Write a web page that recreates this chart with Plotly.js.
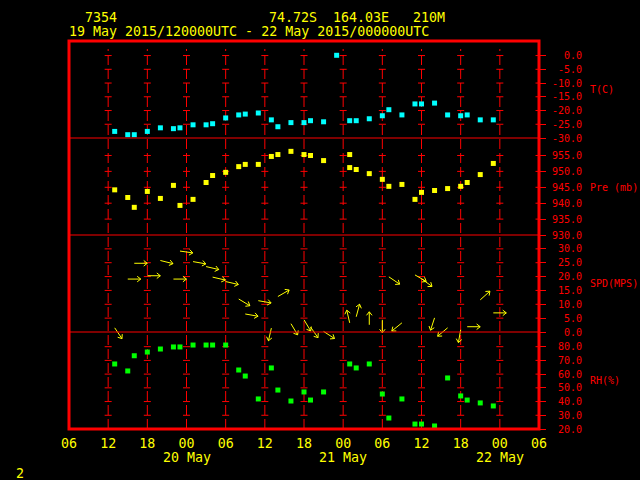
<!DOCTYPE html>
<html><head><meta charset="utf-8">
<script src="https://cdn.plot.ly/plotly-3.0.1.min.js"></script>
<style>html,body{margin:0;padding:0;background:#000}</style>
</head><body>
<div id="chart" style="width:640px;height:480px"></div>
<script>
// ---------------- data ----------------
const times = [
 '2015-05-19 13:00','2015-05-19 15:00','2015-05-19 16:00','2015-05-19 18:00','2015-05-19 20:00','2015-05-19 22:00','2015-05-19 23:00',
 '2015-05-20 01:00','2015-05-20 03:00','2015-05-20 04:00','2015-05-20 06:00','2015-05-20 08:00','2015-05-20 09:00','2015-05-20 11:00',
 '2015-05-20 13:00','2015-05-20 14:00','2015-05-20 16:00','2015-05-20 18:00','2015-05-20 19:00','2015-05-20 21:00','2015-05-20 23:00',
 '2015-05-21 01:00','2015-05-21 02:00','2015-05-21 04:00','2015-05-21 06:00','2015-05-21 07:00','2015-05-21 09:00','2015-05-21 11:00',
 '2015-05-21 12:00','2015-05-21 14:00','2015-05-21 16:00','2015-05-21 18:00','2015-05-21 19:00','2015-05-21 21:00','2015-05-21 23:00'];

const tempC = [-27.6,-28.8,-28.8,-27.6,-26.3,-26.6,-26.3,
 -25.2,-25.2,-24.8,-22.7,-21.6,-21.3,-20.9,
 -23.4,-25.9,-24.4,-24.4,-23.7,-24.1,0.1,
 -23.7,-23.7,-23.0,-21.9,-19.7,-21.6,-17.6,
 -17.6,-17.3,-21.6,-21.9,-21.6,-23.4,-23.4];

const rhPct = [67.4,62.3,73.4,76.1,78.3,79.8,79.8,
 81.2,81.2,81.2,81.2,63.0,58.6,41.9,
 64.5,48.4,40.4,47.0,41.1,47.0,null,
 67.4,64.5,67.4,45.5,28.0,41.9,23.6,
 23.6,22.2,57.2,44.1,41.1,39.0,36.8];

const presTimes = [
 '2015-05-19 13:00','2015-05-19 15:00','2015-05-19 16:00','2015-05-19 18:00','2015-05-19 20:00','2015-05-19 22:00','2015-05-19 23:00',
 '2015-05-20 01:00','2015-05-20 03:00','2015-05-20 04:00','2015-05-20 06:00','2015-05-20 08:00','2015-05-20 09:00','2015-05-20 11:00',
 '2015-05-20 13:00','2015-05-20 14:00','2015-05-20 16:00','2015-05-20 18:00','2015-05-20 19:00','2015-05-20 21:00',
 '2015-05-21 01:00','2015-05-21 01:00','2015-05-21 02:00','2015-05-21 04:00','2015-05-21 06:00','2015-05-21 07:00','2015-05-21 09:00',
 '2015-05-21 11:00','2015-05-21 12:00','2015-05-21 14:00','2015-05-21 16:00','2015-05-21 18:00','2015-05-21 19:00','2015-05-21 21:00','2015-05-21 23:00'];
const presMb = [944.2,941.8,938.7,943.7,941.5,945.6,939.3,
 941.2,946.5,948.7,949.7,951.5,952.2,952.2,
 954.7,955.3,956.3,955.3,955.0,953.4,
 955.3,951.2,950.6,949.3,947.5,945.3,945.9,
 941.2,943.4,944.0,944.6,945.3,946.5,949.0,952.5];

const windTimes = [
 '2015-05-19 13:00','2015-05-19 15:00','2015-05-19 16:00','2015-05-19 18:00','2015-05-19 20:00','2015-05-19 22:00','2015-05-19 23:00',
 '2015-05-20 01:00','2015-05-20 03:00','2015-05-20 04:00','2015-05-20 06:00','2015-05-20 08:00','2015-05-20 09:00','2015-05-20 11:00',
 '2015-05-20 13:00','2015-05-20 14:00','2015-05-20 16:00','2015-05-20 18:00','2015-05-20 19:00','2015-05-20 21:00',
 '2015-05-21 01:00','2015-05-21 02:00','2015-05-21 04:00','2015-05-21 06:00','2015-05-21 07:00','2015-05-21 09:00','2015-05-21 11:00',
 '2015-05-21 12:00','2015-05-21 14:00','2015-05-21 16:00','2015-05-21 18:00','2015-05-21 19:00','2015-05-21 21:00','2015-05-21 23:00'];
const windSpd = [1.5,19.1,24.8,20.3,25.8,19.1,29.2,
 25.4,23.6,19.8,18.2,11.9,6.5,11.3,
 1.4,12.8,3.0,4.4,1.8,0.2,
 3.3,5.5,2.6,4.4,19.9,3.3,20.6,
 19.2,5.1,1.5,0.8,1.9,11.6,6.9];
const windDir = [326,270,270,270,284,270,278,
 280,283,283,283,301,280,280,
 13,240,329,329,325,303,
 167,195,180,0,304,51,300,
 306,18,50,10,270,228,270];

const tickTimes = ['2015-05-19 06:00','2015-05-19 12:00','2015-05-19 18:00','2015-05-20 00:00','2015-05-20 06:00','2015-05-20 12:00','2015-05-20 18:00',
 '2015-05-21 00:00','2015-05-21 06:00','2015-05-21 12:00','2015-05-21 18:00','2015-05-22 00:00','2015-05-22 06:00'];
const tickLabels = ['06','12','18','00','06','12','18','00','06','12','18','00','06'];
const dayLabelTimes = ['2015-05-20 00:00','2015-05-21 00:00','2015-05-22 00:00'];
const dayLabels = ['20 May','21 May','22 May'];

const tTicks = [0,-5,-10,-15,-20,-25,-30];
const pTicks = [955,950,945,940,935,930];
const sTicks = [30,25,20,15,10,5,0];
const rTicks = [80,70,60,50,40,30,20];

// ---------------- layout constants ----------------
const RED = '#ff0000', YEL = '#ffff00', MONO = 'DejaVu Sans Mono';
const mL = 69, mR = 101, mT = 41, mB = 51;
const plotW = 640 - mL - mR, plotH = 480 - mT - mB;
const xRange = ['2015-05-19 06:00','2015-05-22 06:00'];
const tRange = [-30, 5.3], pRange = [930, 960.5], sRange = [0, 35], rRange = [20, 90.7];
// full-height overlay axis with the SPD scale so arrows are not clipped at panel edges
const sSpan = sRange[1] - sRange[0];
const sFullRange = [sRange[0] - sSpan, sRange[1] + 2 * sSpan];

const ms = s => Date.parse(s.replace(' ', 'T') + ':00Z');
const pxPerMs = plotW / (ms(xRange[1]) - ms(xRange[0]));
const pxPerSpd = plotH / (sFullRange[1] - sFullRange[0]);

// wind arrows (tail at observation, pointing downwind)
const ax = [], ay = [];
const L = 13, HL = 4.5, HA = 38 * Math.PI / 180;
windTimes.forEach((t, i) => {
  const to = ((windDir[i] + 180) % 360) * Math.PI / 180;
  const t0 = ms(t), s0 = windSpd[i];
  const hx = t0 + L * Math.sin(to) / pxPerMs, hy = s0 + L * Math.cos(to) / pxPerSpd;
  const back = to + Math.PI;
  const w1x = hx + HL * Math.sin(back + HA) / pxPerMs, w1y = hy + HL * Math.cos(back + HA) / pxPerSpd;
  const w2x = hx + HL * Math.sin(back - HA) / pxPerMs, w2y = hy + HL * Math.cos(back - HA) / pxPerSpd;
  ax.push(t0, hx, w1x, null, hx, w2x, null);
  ay.push(s0, hy, w1y, null, hy, w2y, null);
});

const pad5 = s => '\u00a0'.repeat(Math.max(0, 5 - s.length)) + s;
function yAx(domain, range, ticks) {
  return {domain, range, side: 'right', anchor: 'x', showgrid: false, zeroline: false, showline: false,
    ticks: 'outside', ticklen: 6, tickwidth: 1, tickcolor: RED, ticklabelstandoff: 4,
    tickvals: ticks, ticktext: ticks.map(v => pad5(v.toFixed(1))),
    tickfont: {family: MONO, size: 10, color: RED}, fixedrange: true};
}

const mk = (c) => ({symbol: 'square', size: 5, color: c, line: {width: 0}});
const traces = [
  {x: times, y: tempC, yaxis: 'y4', mode: 'markers', marker: mk('#00ffff'), hoverinfo: 'skip'},
  {x: presTimes, y: presMb, yaxis: 'y3', mode: 'markers', marker: mk(YEL), hoverinfo: 'skip'},
  {x: times, y: rhPct, yaxis: 'y', mode: 'markers', marker: mk('#00ff00'), hoverinfo: 'skip'},
  {x: ax, y: ay, yaxis: 'y5', mode: 'lines', line: {color: YEL, width: 1}, hoverinfo: 'skip', connectgaps: false}
];

// ---------------- grid crosses ----------------
const shapes = [];
const gridTimes = tickTimes.slice(1);
const panels = [['y4', tTicks.slice(0, -1)], ['y3', pTicks.slice(0, -1)], ['y2', sTicks.slice(0, -1)], ['y', rTicks.slice(0, -1)]];
gridTimes.forEach((t, k) => {
  if (k < gridTimes.length - 1) {
    shapes.push({type: 'line', xref: 'x', yref: 'paper', x0: t, x1: t, y0: 0, y1: (plotH - 8) / plotH,
      line: {color: RED, width: 1, dash: '10px,4px'}, layer: 'below'});
  }
  panels.forEach(([ax_, ticks]) => ticks.forEach(v => {
    shapes.push({type: 'line', xref: 'x', yref: ax_, xsizemode: 'pixel', xanchor: t, x0: -3.5, x1: 3.5,
      y0: v, y1: v, line: {color: RED, width: 1}, layer: 'below'});
  }));
});
[0.25, 0.5, 0.75].forEach(p => shapes.push({type: 'line', xref: 'paper', yref: 'paper', x0: 0, x1: 1, y0: p, y1: p,
  line: {color: RED, width: 1}}));
shapes.push({type: 'rect', xref: 'paper', yref: 'paper', x0: 0, x1: 1, y0: 0, y1: 1, line: {color: RED, width: 3}});

// ---------------- text ----------------
const px2x = p => (p - mL) / plotW, px2y = p => (480 - mB - p) / plotH;
const txt = (text, x, y, color, size, xa, extra) => Object.assign({text, x, y, xref: 'paper', yref: 'paper',
  showarrow: false, xanchor: xa || 'left', yanchor: 'middle', font: {family: MONO, size, color}}, extra || {});
const annotations = [
  txt('7354', px2x(82.5), px2y(18), YEL, 13.3),
  txt('74.72S\u00a0\u00a0164.03E\u00a0\u00a0\u00a0210M', px2x(266.5), px2y(18), YEL, 13.3),
  txt('19 May 2015/120000UTC - 22 May 2015/000000UTC', px2x(67), px2y(31.5), YEL, 13.3),
  txt('2', px2x(14), px2y(473.5), YEL, 13.3),
  txt('T(C)', px2x(588), -12.5, RED, 10, 'left', {yref: 'y4'}),
  txt('Pre\u00a0(mb)', px2x(588), 945, RED, 10, 'left', {yref: 'y3'}),
  txt('SPD(MPS)', px2x(588), 17.6, RED, 10, 'left', {yref: 'y2'}),
  txt('RH(%)', px2x(588), 55.2, RED, 10, 'left', {yref: 'y'})
];
dayLabels.forEach((d, i) => annotations.push(txt(d, dayLabelTimes[i], px2y(457.5), YEL, 13.3, 'center', {xref: 'x'})));

const layout = {
  width: 640, height: 480, margin: {l: mL, r: mR, t: mT, b: mB, pad: 0},
  paper_bgcolor: '#000', plot_bgcolor: 'rgba(0,0,0,0)', showlegend: false,
  font: {family: MONO, color: YEL},
  xaxis: {type: 'date', range: xRange, anchor: 'y', showgrid: false, zeroline: false, showline: false,
    ticks: '', tickvals: tickTimes, ticktext: tickLabels, ticklabelstandoff: 5,
    tickfont: {family: MONO, size: 13.3, color: YEL}, fixedrange: true},
  yaxis: yAx([0, 0.25], rRange, rTicks),
  yaxis2: yAx([0.25, 0.5], sRange, sTicks),
  yaxis3: yAx([0.5, 0.75], pRange, pTicks),
  yaxis4: yAx([0.75, 1], tRange, tTicks),
  yaxis5: {domain: [0, 1], range: sFullRange, anchor: 'x', visible: false, fixedrange: true},
  shapes, annotations
};
Plotly.newPlot('chart', traces, layout, {displayModeBar: false, staticPlot: true});
</script>
</body></html>
